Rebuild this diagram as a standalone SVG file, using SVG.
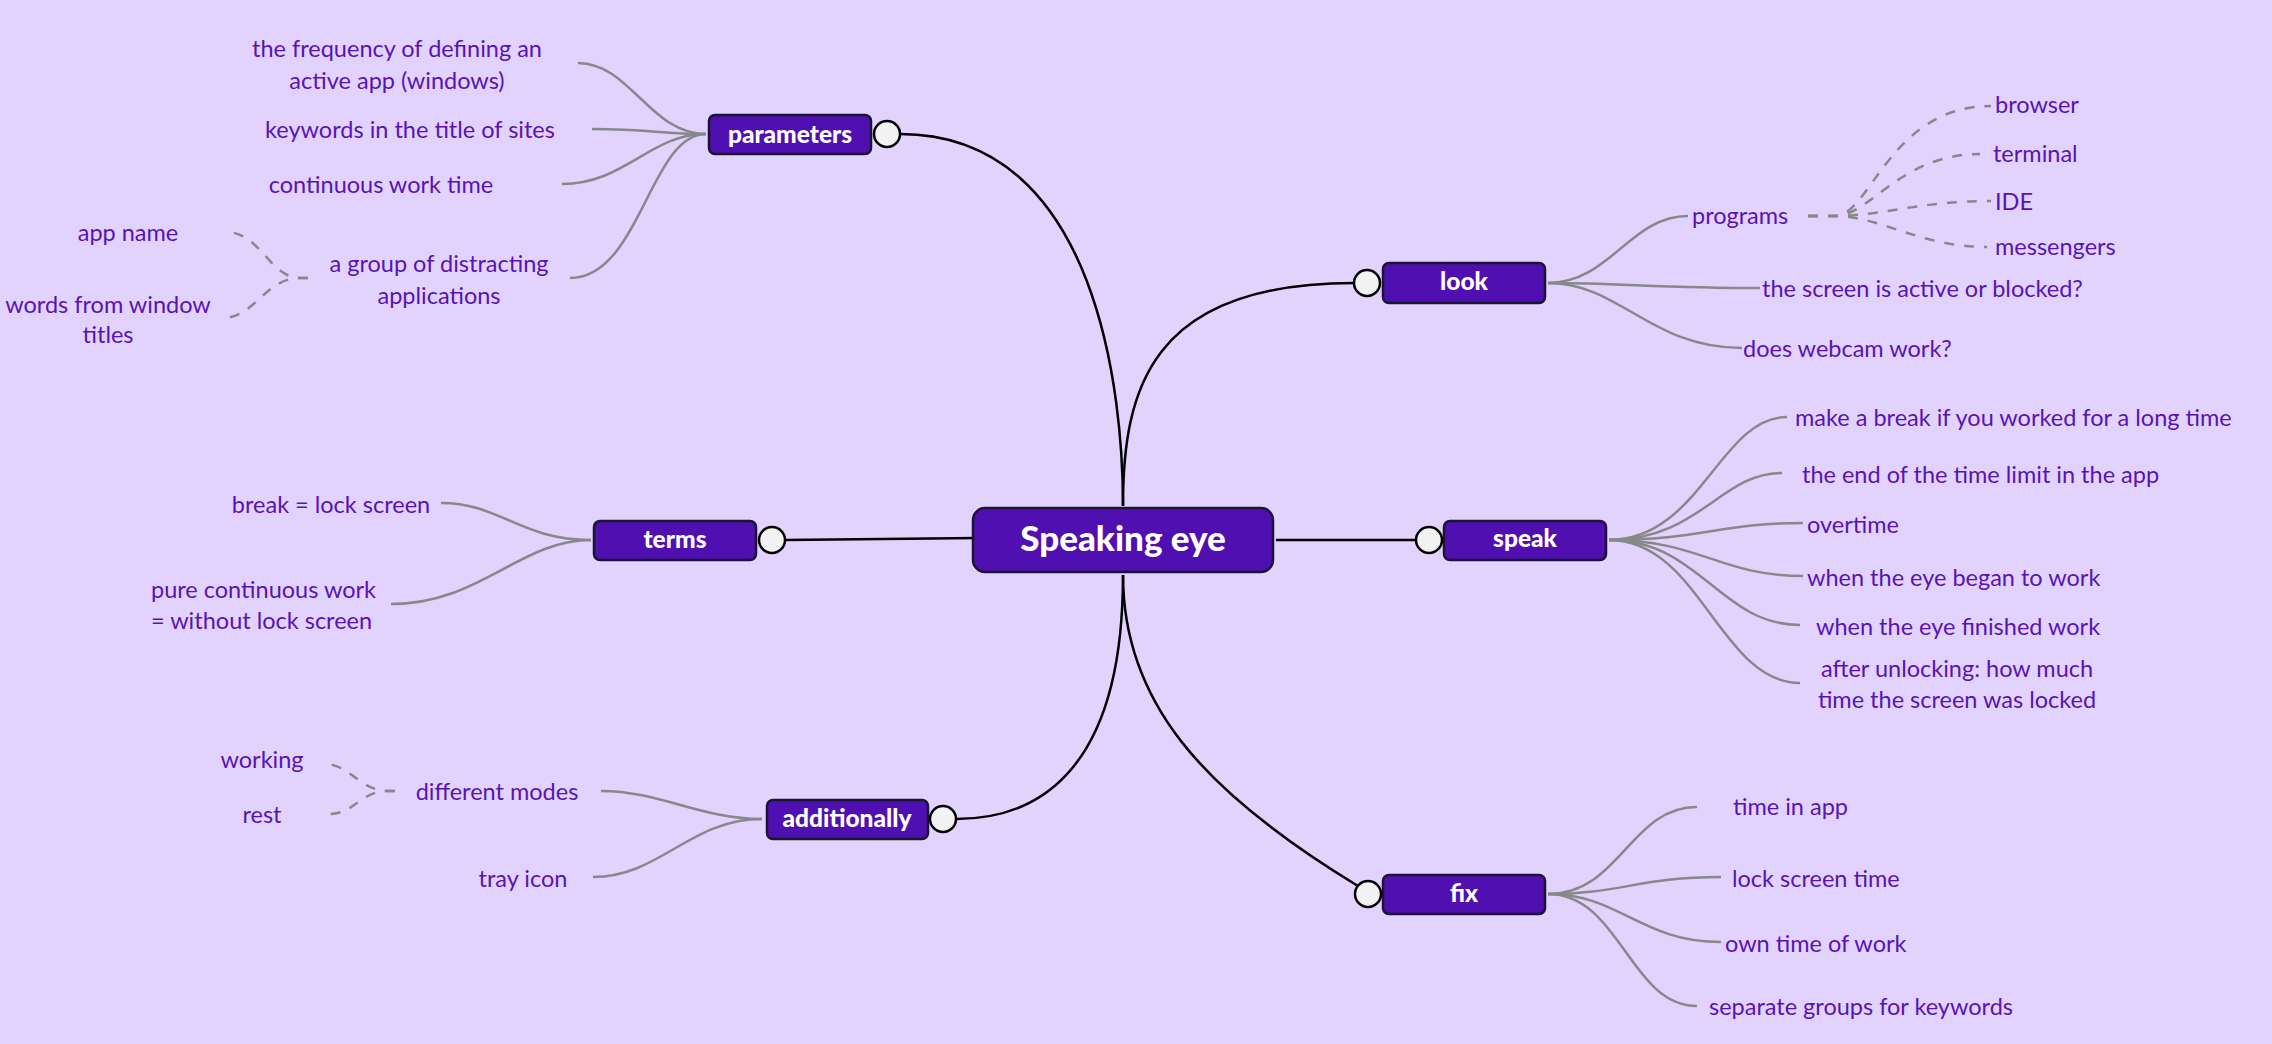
<svg xmlns="http://www.w3.org/2000/svg" width="2272" height="1044" viewBox="0 0 2272 1044">
<style>
.bg{fill:#e1d3fe}
.box{fill:#500fb1;stroke:#1d1433;stroke-width:2.5}
.lbl{font-family:Lato,"Open Sans","DejaVu Sans",sans-serif;font-weight:900;fill:#ffffff;font-size:24.5px;text-anchor:middle}
.big{font-size:35px}
.leaf{font-family:Lato,"Open Sans","DejaVu Sans",sans-serif;font-size:23.5px;fill:#5913b5}
.mid{text-anchor:middle}
.main{fill:none;stroke:#000;stroke-width:2.5}
.sub{fill:none;stroke:#888888;stroke-width:2.5}
.dash{stroke-dasharray:10 10;stroke-dashoffset:10}
.knob{fill:#f2f2f2;stroke:#000;stroke-width:2.5}
</style>
<rect class="bg" x="0" y="0" width="2272" height="1044"/>

<g id="connectors">
  <!-- main branches -->
  <path class="main" d="M900,134 C1100,134 1123,400 1123,506"/>
  <path class="main" d="M1123,506 C1123,390 1150,283 1354,283"/>
  <path class="main" d="M785,540 L979,538"/>
  <path class="main" d="M1276,540 L1416,540"/>
  <path class="main" d="M1123,575 C1123,780 1030,819 956,819"/>
  <path class="main" d="M1123,575 C1123,700 1200,790 1358,886"/>
  <!-- parameters leaves -->
  <path class="sub" d="M706,134 C650,134 630,63 578,63"/>
  <path class="sub" d="M706,134 C660,134 650,129 592,129"/>
  <path class="sub" d="M706,134 C650,134 625,184 562,184"/>
  <path class="sub" d="M706,134 C650,134 640,278 570,278"/>
  <path class="sub dash" d="M318,278 L300,278 C270,278 260,232 226,232"/>
  <path class="sub dash" d="M318,278 L300,278 C265,278 255,318 222,318"/>
  <!-- look leaves -->
  <path class="sub" d="M1548,283 C1610,283 1630,216 1688,216"/>
  <path class="sub" d="M1548,283 C1620,283 1660,288 1760,288"/>
  <path class="sub" d="M1548,283 C1620,283 1650,348 1742,348"/>
  <path class="sub dash" d="M1798,216 L1835,216 C1870,216 1890,106 1991,106"/>
  <path class="sub dash" d="M1798,216 L1835,216 C1870,216 1900,154 1980,154"/>
  <path class="sub dash" d="M1798,216 L1835,216 C1880,216 1920,201 1991,201"/>
  <path class="sub dash" d="M1798,216 L1835,216 C1880,216 1920,247 1987,247"/>
  <!-- speak leaves -->
  <path class="sub" d="M1609,540 C1700,540 1720,417 1787,417"/>
  <path class="sub" d="M1609,540 C1700,540 1720,473 1782,473"/>
  <path class="sub" d="M1609,540 C1700,540 1720,523 1803,523"/>
  <path class="sub" d="M1609,540 C1700,540 1720,576 1803,576"/>
  <path class="sub" d="M1609,540 C1700,540 1720,625 1800,625"/>
  <path class="sub" d="M1609,540 C1700,540 1720,683 1800,683"/>
  <!-- terms leaves -->
  <path class="sub" d="M591,540 C520,540 500,503 441,503"/>
  <path class="sub" d="M591,540 C520,540 480,604 391,604"/>
  <!-- additionally leaves -->
  <path class="sub" d="M762,819 C700,819 660,791 601,791"/>
  <path class="sub" d="M762,819 C690,819 660,877 593,877"/>
  <path class="sub dash" d="M405,791 L388,791 C360,791 350,764 324,764"/>
  <path class="sub dash" d="M405,791 L388,791 C360,791 355,814 329,814"/>
  <!-- fix leaves -->
  <path class="sub" d="M1548,894 C1620,894 1630,807 1697,807"/>
  <path class="sub" d="M1548,894 C1620,894 1640,877 1721,877"/>
  <path class="sub" d="M1548,894 C1620,894 1640,942 1721,942"/>
  <path class="sub" d="M1548,894 C1620,894 1630,1006 1697,1006"/>
</g>

<g id="node-center">
  <rect class="box" x="973" y="508" width="300" height="64" rx="12"/>
  <text class="lbl big" x="1123" y="551">Speaking eye</text>
</g>

<g id="node-parameters">
  <rect class="box" x="709" y="115" width="162" height="39" rx="6"/>
  <text class="lbl" x="790" y="142.5">parameters</text>
  <circle class="knob" cx="887" cy="134" r="13"/>
</g>
<g id="node-look">
  <rect class="box" x="1383" y="263" width="162" height="40" rx="6"/>
  <text class="lbl" x="1464" y="290">look</text>
  <circle class="knob" cx="1367" cy="283" r="13"/>
</g>
<g id="node-terms">
  <rect class="box" x="594" y="521" width="162" height="39" rx="6"/>
  <text class="lbl" x="675" y="548">terms</text>
  <circle class="knob" cx="772" cy="540" r="13"/>
</g>
<g id="node-speak">
  <rect class="box" x="1444" y="521" width="162" height="39" rx="6"/>
  <text class="lbl" x="1525" y="547">speak</text>
  <circle class="knob" cx="1429" cy="540" r="13"/>
</g>
<g id="node-additionally">
  <rect class="box" x="767" y="800" width="161" height="39" rx="6"/>
  <text class="lbl" x="847" y="827">additionally</text>
  <circle class="knob" cx="943" cy="819" r="13"/>
</g>
<g id="node-fix">
  <rect class="box" x="1383" y="875" width="162" height="39" rx="6"/>
  <text class="lbl" x="1464" y="902">fix</text>
  <circle class="knob" cx="1368" cy="894" r="13"/>
</g>

<g id="leaves-parameters">
  <text class="leaf mid" x="397" y="57">the frequency of defining an</text>
  <text class="leaf mid" x="397" y="89">active app (windows)</text>
  <text class="leaf mid" x="410" y="138">keywords in the title of sites</text>
  <text class="leaf mid" x="381" y="193">continuous work time</text>
  <text class="leaf mid" x="439" y="272">a group of distracting</text>
  <text class="leaf mid" x="439" y="304">applications</text>
  <text class="leaf mid" x="128" y="241">app name</text>
  <text class="leaf mid" x="108" y="313">words from window</text>
  <text class="leaf mid" x="108" y="343">titles</text>
</g>
<g id="leaves-look">
  <text class="leaf" x="1692" y="224">programs</text>
  <text class="leaf" x="1995" y="113">browser</text>
  <text class="leaf" x="1993" y="162">terminal</text>
  <text class="leaf" x="1995" y="210">IDE</text>
  <text class="leaf" x="1995" y="255">messengers</text>
  <text class="leaf" x="1762" y="297">the screen is active or blocked?</text>
  <text class="leaf" x="1743" y="357">does webcam work?</text>
</g>
<g id="leaves-speak">
  <text class="leaf" x="1795" y="426">make a break if you worked for a long time</text>
  <text class="leaf" x="1802" y="483">the end of the time limit in the app</text>
  <text class="leaf" x="1807" y="533">overtime</text>
  <text class="leaf" x="1807" y="586">when the eye began to work</text>
  <text class="leaf" x="1816" y="635">when the eye finished work</text>
  <text class="leaf mid" x="1957" y="677">after unlocking: how much</text>
  <text class="leaf mid" x="1957" y="708">time the screen was locked</text>
</g>
<g id="leaves-terms">
  <text class="leaf mid" x="331" y="513">break = lock screen</text>
  <text class="leaf" x="151" y="598">pure continuous work</text>
  <text class="leaf" x="151" y="629">= without lock screen</text>
</g>
<g id="leaves-additionally">
  <text class="leaf mid" x="497" y="800">different modes</text>
  <text class="leaf mid" x="523" y="887">tray icon</text>
  <text class="leaf mid" x="262" y="768">working</text>
  <text class="leaf mid" x="262" y="823">rest</text>
</g>
<g id="leaves-fix">
  <text class="leaf" x="1733" y="815">time in app</text>
  <text class="leaf" x="1732" y="887">lock screen time</text>
  <text class="leaf" x="1725" y="952">own time of work</text>
  <text class="leaf" x="1709" y="1015">separate groups for keywords</text>
</g>
</svg>
